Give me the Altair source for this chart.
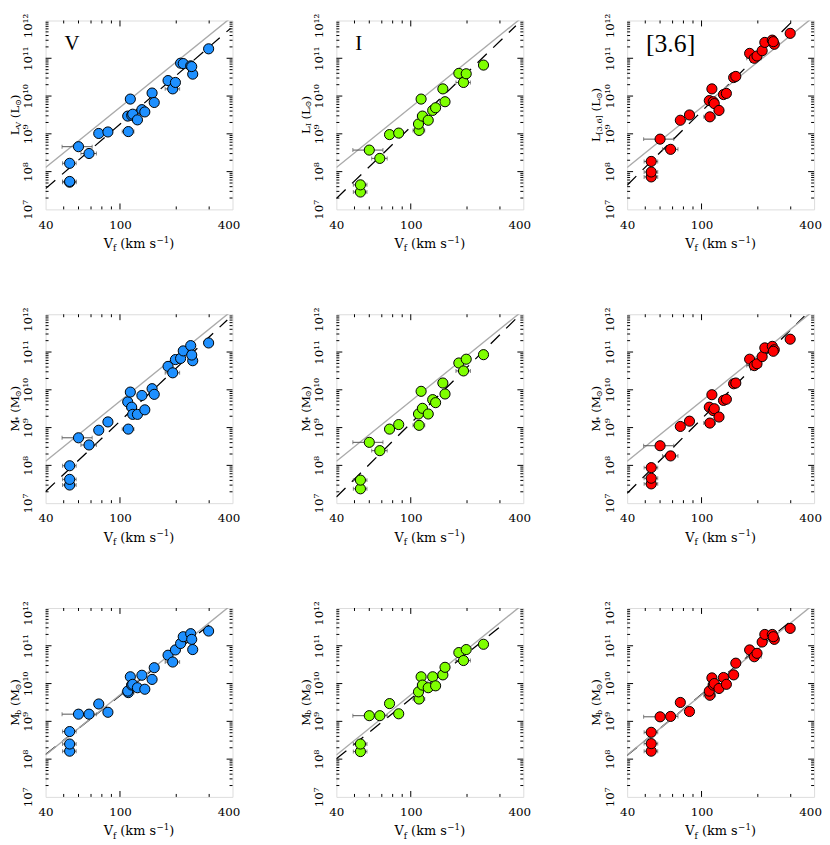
import altair as alt
import pandas as pd

# ---------------- data (log10 values) ----------------
V_F = [53.8, 53.8, 53.8, 60.0, 68.3, 77.0, 86.2, 110.8, 110.0, 113.6, 115.5, 117.0,
       124.0, 131.0, 135.8, 148.5, 152.5, 180.8, 191.5, 198.0, 211.0, 218.0, 239.0,
       245.0, 242.0, 298.0]
V_ERR = [4.5, 4.5, 4.5, 11.0, 6.5, 0, 0, 8.0, 4.0, 0, 7.0, 4.0, 7.0, 0, 7.0, 0, 0,
         0, 17.0, 8.0, 0, 0, 0, 12.0, 0, 0]
N = None
LOG_L_V = [7.72, 7.74, 8.22, 8.66, 8.48, 9.01, 9.05, 9.06, 9.47, 9.92, 9.49, 9.52, 9.37,
           9.64, 9.58, 10.08, 9.83, 10.41, 10.19, 10.36, 10.87, 10.86, 10.80, 10.58, 10.78, 11.25]
LOG_L_I = [7.46, 7.65, N, 8.57, 8.35, 8.98, 9.02, 9.09, 9.26, 9.92, 9.47, N, 9.36,
           9.62, 9.69, 10.19, 9.85, 10.60, 10.36, 10.59, N, N, N, 10.82, N, N]
LOG_L_36 = [7.86, 7.99, 8.27, 8.86, 8.59, 9.36, 9.50, 9.45, 9.88, 10.19, 9.85, 9.80, 9.62,
            10.04, 10.07, 10.49, 10.52, 11.13, 11.00, 11.06, 11.20, 11.42, 11.48, 11.37, 11.44, 11.66]
LOG_MS_V = [7.48, 7.63, 7.99, 8.73, 8.54, 8.93, 9.15, 8.96, 9.68, 9.94, 9.54, 9.35, 9.35,
            9.85, 9.47, 10.03, 9.88, 10.62, 10.45, 10.80, 10.83, 11.03, 11.17, 10.77, 10.92, 11.24]
LOG_MS_I = [7.38, 7.61, N, 8.61, 8.39, 8.96, 9.08, 9.06, 9.36, 9.96, 9.51, N, 9.36,
            9.74, 9.66, 10.18, 9.89, 10.71, 10.50, 10.81, N, N, N, 10.93, N, N]
LOG_MS_36 = [7.51, 7.66, 7.94, 8.52, 8.25, 9.03, 9.17, 9.12, 9.54, 9.87, 9.45, 9.50, 9.28,
             9.72, 9.75, 10.16, 10.18, 10.81, 10.64, 10.69, 10.88, 11.11, 11.15, 11.06, 11.02, 11.34]
LOG_MB_V = [8.21, 8.40, 8.73, 9.19, 9.19, 9.46, 9.24, 9.76, 9.80, 10.18, 9.96, 9.98, 9.89,
            10.22, 9.85, 10.11, 10.42, 10.75, 10.57, 10.89, 11.06, 11.24, 11.32, 10.90, 11.17, 11.39]
LOG_MB_I = [8.20, 8.40, N, 9.15, 9.15, 9.47, 9.20, 9.59, 9.78, 10.18, 9.96, N, 9.89,
            10.18, 9.94, 10.23, 10.43, 10.82, 10.61, 10.90, N, N, N, 11.04, N, N]
LOG_MB_36 = [8.21, 8.41, 8.71, 9.12, 9.13, 9.50, 9.26, 9.69, 9.80, 10.15, 9.96, 10.00, 9.87,
             10.16, 9.98, 10.23, 10.54, 10.89, 10.71, 10.80, 11.10, 11.30, 11.30, 11.17, 11.24, 11.46]

Y_DATA = [[LOG_L_V, LOG_L_I, LOG_L_36],
          [LOG_MS_V, LOG_MS_I, LOG_MS_36],
          [LOG_MB_V, LOG_MB_I, LOG_MB_36]]

# dashed fit lines: log10 value at V=40 and at the end velocity
FIT_START = [[7.55, 7.29, 7.64], [7.31, 7.16, 7.26], [8.12, 8.01, 8.10]]
FIT_END_V = [[390, 365, 330], [375, 365, 355], [318, 318, 318]]
FIT_END = [[11.79, 11.86, 12.14], [11.85, 11.88, 11.95], [11.65, 11.60, 11.75]]

# grey reference line (M = 50 V^4)
REF_V = [40, 400]
REF_M = [1.28e8, 1.28e12]

COLORS = ["#1e90ff", "#7fff00", "#ff0000"]
BAND_LABELS = ["V", "I", "[3.6]"]

X_LABEL_VALUES = [40, 100, 400]
Y_LABEL_VALUES = [1e7, 1e8, 1e9, 1e10, 1e11, 1e12]
X_MAJOR = [100]
X_MINOR = [50, 60, 70, 80, 90, 200, 300]
Y_MAJOR = [1e8, 1e9, 1e10, 1e11]
Y_MINOR = [k * 10 ** n for n in range(7, 12) for k in range(2, 10)]

# axis title pieces: (text, kind)
SUN = "\u2299"
Y_TITLES = [
    [[("L", "n"), ("V", "sub"), (" (L", "n"), (SUN, "sub"), (")", "n")],
     [("L", "n"), ("I", "sub"), (" (L", "n"), (SUN, "sub"), (")", "n")],
     [("L", "n"), ("[3.6]", "sub"), (" (L", "n"), (SUN, "sub"), (")", "n")]],
    [[("M", "n"), ("*", "sub"), (" (M", "n"), (SUN, "sub"), (")", "n")]] * 3,
    [[("M", "n"), ("b", "sub"), (" (M", "n"), (SUN, "sub"), (")", "n")]] * 3,
]
X_TITLE = [("V", "n"), ("f", "sub"), (" (km s", "n"), ("\u22121", "sup"), (")", "n")]

# ---------------- styling ----------------
W, H = 189, 191
FONT = "DejaVu Serif"
LABEL_FONT = "Liberation Serif"
XS = alt.Scale(type="log", domain=[40, 400], nice=False)
YS = alt.Scale(type="log", domain=[1e7, 1e12], nice=False)
ONE = pd.DataFrame({"k": [0]})

CHAR_W = {" ": 0.318, "(": 0.390, ")": 0.390, "[": 0.390, "]": 0.390, ".": 0.318,
          "L": 0.637, "V": 0.723, "I": 0.365, "M": 0.918, "b": 0.640, "f": 0.370,
          "k": 0.645, "m": 0.949, "s": 0.513, "\u2212": 0.838, "*": 0.5, SUN: 0.838}


def text_width(s, size):
    return sum(CHAR_W.get(ch, 0.636) for ch in s) * size


def txt(t, x, y, size, angle=0, font=FONT):
    kw = dict(text=t, font=font, fontSize=size, align="left", baseline="alphabetic",
              color="black")
    if angle:
        kw["angle"] = angle
    return alt.Chart(ONE).mark_text(**kw).encode(x=alt.value(x), y=alt.value(y))


def piece_sizes(pieces, size):
    out = []
    for t, k in pieces:
        sz = size if k == "n" else round(size * 0.68, 1)
        stripped = t.lstrip(" ")
        lead = text_width(t[:len(t) - len(stripped)], size)
        out.append((stripped, k, sz, lead, text_width(stripped, sz)))
    return out


def horiz_title(pieces, cx, base_y, size):
    ps = piece_sizes(pieces, size)
    total = sum(p[3] + p[4] for p in ps)
    x = cx - total / 2
    layers = []
    for t, k, sz, lead, w in ps:
        x += lead
        dy = 0 if k == "n" else (0.25 * size if k == "sub" else -0.42 * size)
        layers.append(txt(t, x, base_y + dy, sz))
        x += w
    return layers


def vert_title(pieces, base_x, cy, size):
    ps = piece_sizes(pieces, size)
    total = sum(p[3] + p[4] for p in ps)
    y = cy + total / 2
    layers = []
    for t, k, sz, lead, w in ps:
        y -= lead
        dx = 0 if k == "n" else (0.15 * size if k == "sub" else -0.42 * size)
        layers.append(txt(t, base_x + dx, y, sz, angle=270))
        y -= w
    return layers


Y_LABEL_EXPR = ("datum.value < 3e7 ? '10\u2077' : datum.value < 3e8 ? '10\u2078' : "
                "datum.value < 3e9 ? '10\u2079' : datum.value < 3e10 ? '10\u00b9\u2070' : "
                "datum.value < 3e11 ? '10\u00b9\u00b9' : '10\u00b9\u00b2'")

AX = alt.Axis(values=X_LABEL_VALUES, labelExpr="format(datum.value, 'd')", title=None,
              domain=False, ticks=False, grid=False, labelFont=FONT,
              labelFontSize=12, labelColor="black", labelPadding=10, labelFlush=False,
              labelOffset={"condition": {"test": "datum.value > 300", "value": -4},
                           "value": 0})
AY = alt.Axis(values=Y_LABEL_VALUES, labelExpr=Y_LABEL_EXPR, title=None, domain=False,
              ticks=False, grid=False, labelFont=FONT, labelFontSize=12,
              labelColor="black", labelAngle=270, labelAlign="center",
              labelBaseline="bottom", labelPadding=11, labelFlush=False,
              labelOffset={"condition": {"test": "datum.value > 5e11", "value": 5},
                           "value": 0})


def xq(f):
    return alt.X(f, type="quantitative", scale=XS, axis=AX)


def yq(f):
    return alt.Y(f, type="quantitative", scale=YS, axis=AY)


def frame_ticks():
    L = []
    for vals, ln in ((X_MAJOR, 6), (X_MINOR, 3)):
        base = alt.Chart(pd.DataFrame({"t": vals})).mark_rule(color="black", strokeWidth=1)
        L.append(base.encode(x=xq("t"), y=alt.value(H), y2=alt.value(H - ln)))
        L.append(base.encode(x=xq("t"), y=alt.value(0), y2=alt.value(ln)))
    for vals, ln in ((Y_MAJOR, 6), (Y_MINOR, 3)):
        base = alt.Chart(pd.DataFrame({"t": vals})).mark_rule(color="black", strokeWidth=1)
        L.append(base.encode(y=yq("t"), x=alt.value(0), x2=alt.value(ln)))
        L.append(base.encode(y=yq("t"), x=alt.value(W), x2=alt.value(W - ln)))
    return L


def panel(r, c):
    rows = [(v, e, 10 ** y) for v, e, y in zip(V_F, V_ERR, Y_DATA[r][c]) if y is not None]
    df = pd.DataFrame(rows, columns=["v", "err", "m"])
    ed = df[df["err"] > 0].copy()
    ed["lo"] = ed["v"] - ed["err"]
    ed["hi"] = ed["v"] + ed["err"]
    caps = pd.concat([ed[["lo", "m"]].rename(columns={"lo": "x"}),
                      ed[["hi", "m"]].rename(columns={"hi": "x"})])

    fit = pd.DataFrame({"v": [40, FIT_END_V[r][c]],
                        "m": [10 ** FIT_START[r][c], 10 ** FIT_END[r][c]]})
    ref = pd.DataFrame({"v": REF_V, "m": REF_M})

    pts = alt.Chart(df).mark_point(shape="circle", filled=True, size=105, fill=COLORS[c],
                                   stroke="black", strokeWidth=1, opacity=1).encode(
        x=xq("v"), y=yq("m"))
    fit_l = alt.Chart(fit).mark_line(color="black", strokeWidth=1.3, strokeDash=[13, 9],
                                     clip=True).encode(x=xq("v"), y=yq("m"))
    ref_l = alt.Chart(ref).mark_line(color="#aaaaaa", strokeWidth=1.4, clip=True).encode(
        x=xq("v"), y=yq("m"))
    err_l = alt.Chart(ed).mark_rule(color="#555555", strokeWidth=1).encode(
        x=xq("lo"), x2="hi:Q", y=yq("m"))
    cap_l = alt.Chart(caps).mark_tick(color="#555555", orient="vertical", size=4,
                                      thickness=1).encode(x=xq("x"), y=yq("m"))

    layers = [pts.mark_point(opacity=0, size=1)] + frame_ticks() + [fit_l, ref_l, err_l, cap_l, pts]
    layers += horiz_title(X_TITLE, W / 2, H + 39, 13)
    layers += vert_title(Y_TITLES[r][c], -27, H / 2, 12)
    if r == 0:
        size = 26 if c == 2 else 21
        base = 32 if c == 2 else 30
        layers.append(txt(BAND_LABELS[c], 19, base, size, font=LABEL_FONT))
    return alt.layer(*layers).properties(width=W, height=H)


panels = [panel(r, c) for r in range(3) for c in range(3)]
chart = alt.concat(*panels, columns=3, spacing={"row": 106, "column": 105},
                   bounds="flush").properties(
    padding={"left": 0, "top": 0, "right": 0, "bottom": 0}
).configure_view(stroke="black", strokeWidth=2).configure(background="white")

chart.save("out.html", embed_options={"renderer": "svg", "actions": False})
